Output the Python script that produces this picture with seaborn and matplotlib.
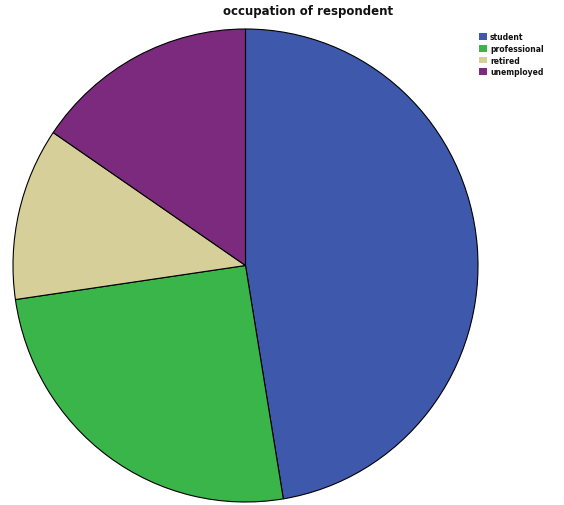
import matplotlib
matplotlib.use("Agg")
import matplotlib.pyplot as plt
import seaborn as sns
from matplotlib.patches import Patch

categories = ["student", "professional", "retired", "unemployed"]
shares = [47.4, 25.3, 11.8, 15.5]
colors = ["#3e58ac", "#3ab54a", "#d6cf9a", "#7b2a7e"]

sns.set_theme(style="white")
plt.rcParams["font.family"] = ["DejaVu Sans"]

W, H = 564, 506
fig = plt.figure(figsize=(W / 100, H / 100), dpi=100)
ax = fig.add_axes([13 / W, 3 / H, 465 / W, 473 / H])
ax.pie(shares, colors=colors, startangle=90, counterclock=False,
       wedgeprops=dict(edgecolor="black", linewidth=0.8))
ax.set_aspect("auto")
ax.set_xlim(-1.0, 1.0)
ax.set_ylim(-1.0, 1.0)
ax.axis("off")

fig.text(308 / W, 1 - 12 / H, "occupation of respondent", ha="center", va="center",
         fontsize=8.5, fontweight="bold", color="#111111")

handles = [Patch(facecolor=c, edgecolor="none") for c in colors]
leg = fig.legend(handles, categories, loc="upper left", bbox_to_anchor=(474 / W, 1 - 28 / H),
                 frameon=False, fontsize=5.5, handlelength=1.0, handleheight=1.0,
                 handletextpad=0.4, labelspacing=0.35, borderpad=0.2)
for t in leg.get_texts():
    t.set_fontweight("bold")
    t.set_color("#111111")

fig.savefig("out.png", dpi=100)
